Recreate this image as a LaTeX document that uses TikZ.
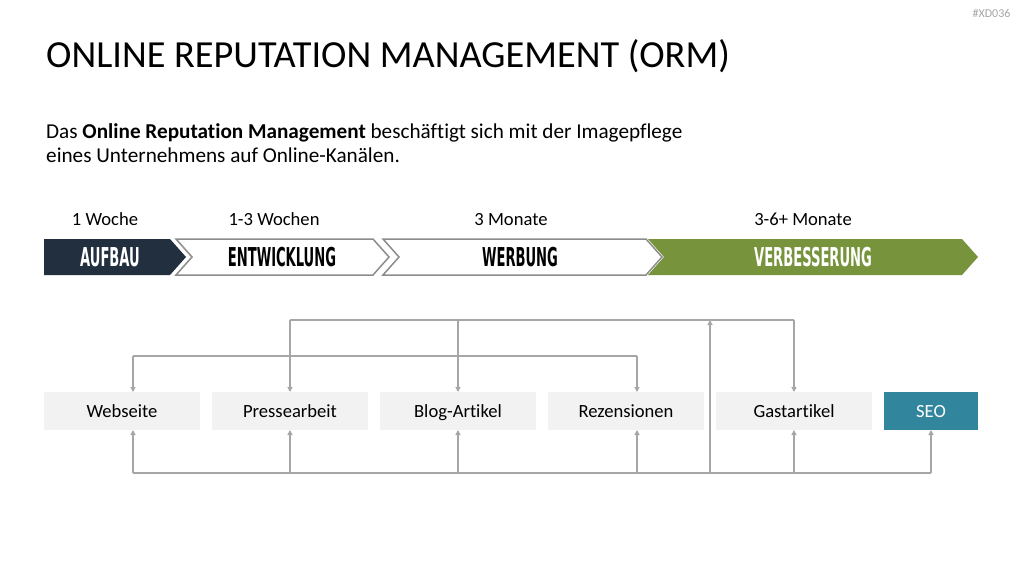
\documentclass[tikz,border=0pt]{standalone}
\usepackage{fontspec}
\setmainfont{Carlito}[Ligatures=NoCommon]
\newfontfamily\chevfont[FakeStretch=0.56]{DejaVu Sans Condensed}
\usepackage{xcolor}
\usepackage{tikz}
\usetikzlibrary{positioning, calc, arrows.meta}
\definecolor{ormnavy}{HTML}{222F3E}
\definecolor{ormgreen}{HTML}{77933C}
\definecolor{ormteal}{HTML}{31859C}
\definecolor{ormbox}{HTML}{F2F2F2}
\definecolor{ormline}{HTML}{A6A6A6}
\definecolor{ormedge}{HTML}{8C8C8C}

\begin{document}
\begin{tikzpicture}[x=1pt, y=-1pt,
    chev/.style={line width=1.5pt, line join=miter},
    chevtxt/.style={font=\chevfont\bfseries\fontsize{26}{28}\selectfont, anchor=base, inner sep=0pt},
    period/.style={font=\fontsize{18.6}{22}\selectfont, anchor=base, inner sep=0pt},
    channel/.style={minimum width=156pt, minimum height=38pt, fill=ormbox, inner sep=0pt,
                    outer sep=0pt, text height=16pt, text depth=4pt,
                    font=\fontsize{18.6}{22}\selectfont},
    bus/.style={ormline, line width=1.5pt},
    link/.style={bus, -{Triangle[length=5pt, width=5pt]}},
  ]
  \fill[white] (0,0) rectangle (1024,576);
  \useasboundingbox (0,0) rectangle (1024,576);

  % --- header ---
  \node[anchor=east, text=ormline, font=\fontsize{12}{14}\selectfont] (tag) at (1014,13) {\#XD036};
  \node[anchor=base west, inner sep=0pt, font=\fontsize{38.3}{44}\selectfont] (title) at (46,67)
    {ONLINE REPUTATION MANAGEMENT (ORM)};
  \node[anchor=base west, inner sep=0pt, font=\fontsize{21.2}{24}\selectfont] (sub1) at (46,138)
    {Das \textbf{Online Reputation Management} beschäftigt sich mit der Imagepflege};
  \node[anchor=base west, inner sep=0pt, font=\fontsize{21.2}{24}\selectfont] (sub2) at (46,162)
    {eines Unternehmens auf Online-Kanälen.};

  % --- phases ---
  \node[period] (t1) at (105,225) {1 Woche};
  \node[period] (t2) at (274,225) {1-3 Wochen};
  \node[period] (t3) at (511,225) {3 Monate};
  \node[period] (t4) at (803,225) {3-6+ Monate};

  \fill[ormnavy] (44,239) -- (170,239) -- (186,257) -- (170,275) -- (44,275) -- cycle;
  \node[chevtxt, text=white] (aufbau) at (110,266) {AUFBAU};

  \draw[chev, ormedge, fill=white] (176,239) -- (373,239) -- (389,257) -- (373,275) -- (176,275) -- (192,257) -- cycle;
  \node[chevtxt] (entw) at (282,266) {ENTWICKLUNG};

  \draw[chev, ormedge, fill=white] (383,239) -- (646,239) -- (662,257) -- (646,275) -- (383,275) -- (399,257) -- cycle;
  \node[chevtxt] (werb) at (520,266) {WERBUNG};

  \fill[ormgreen] (648,239) -- (962,239) -- (978,257) -- (962,275) -- (648,275) -- (664,257) -- cycle;
  \node[chevtxt, text=white] (verb) at (813,266) {VERBESSERUNG};

  % --- channels ---
  \node[channel] (web) at (122,411) {Webseite};
  \node[channel, right=12pt of web] (press) {Pressearbeit};
  \node[channel, right=12pt of press] (blog) {Blog-Artikel};
  \node[channel, right=12pt of blog] (rez) {Rezensionen};
  \node[channel, right=12pt of rez] (gast) {Gastartikel};
  \node[channel, right=12pt of gast, minimum width=94pt, fill=ormteal, text=white] (seo) {SEO};

  % --- connectors ---
  \coordinate (tb) at (0,320);
  \coordinate (mb) at (0,356);
  \coordinate (bb) at (0,473);
  \coordinate (webx) at ($(web.north)+(11,0)$);
  \coordinate (rezx) at ($(rez.north)+(11,0)$);
  \coordinate (upx) at (710,0);

  \draw[bus] (press.north |- tb) -- (gast.north |- tb);
  \foreach \n in {press, blog, gast}
    \draw[link] (\n.north |- tb) -- (\n.north);
  \draw[link] (upx |- bb) -- (upx |- tb);

  \draw[bus] (webx |- mb) -- (rezx |- mb);
  \draw[link] (webx |- mb) -- (webx);
  \draw[link] (rezx |- mb) -- (rezx);

  \draw[bus] (webx |- bb) -- (seo.south |- bb);
  \draw[link] (webx |- bb) -- (webx |- web.south);
  \draw[link] (rezx |- bb) -- (rezx |- rez.south);
  \foreach \n in {press, blog, gast, seo}
    \draw[link] (\n.south |- bb) -- (\n.south);

\end{tikzpicture}
\end{document}
